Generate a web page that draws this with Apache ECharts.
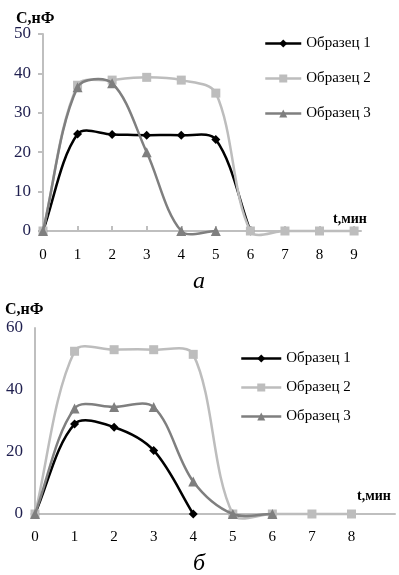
<!DOCTYPE html>
<html>
<head>
<meta charset="utf-8">
<script src="https://cdn.jsdelivr.net/npm/echarts@6/dist/echarts.min.js"></script>
<style>
  html, body { margin: 0; padding: 0; background: #fff; }
  #main { width: 399px; height: 575px; }
</style>
</head>
<body>
<div id="main"></div>
<script>
// chart (a)
var timeA = [0, 1, 2, 3, 4, 5, 6, 7, 8, 9];
var sample1A = [0, 24.6, 24.5, 24.3, 24.3, 23.2, 0, null, null, null];
var sample2A = [0, 37, 38.3, 39, 38.3, 35, 0, 0, 0, 0];
var sample3A = [0, 36.5, 37.5, 20, 0, 0, null, null, null, null];

// chart (b)
var timeB = [0, 1, 2, 3, 4, 5, 6, 7, 8];
var sample1B = [0, 29, 28, 20.5, 0, null, null, null, null];
var sample2B = [0, 52.5, 53, 53, 51.5, 0, 0, 0, 0];
var sample3B = [0, 34, 34.5, 34.5, 10.5, 0, 0, null, null];

var names = ['Образец 1', 'Образец 2', 'Образец 3'];
var colors = ['#000000', '#BDBDBD', '#7F7F7F'];
var symbols = ['diamond', 'rect', 'triangle'];
var serif = '"Liberation Serif", "DejaVu Serif", serif';

function pairs(xs, ys) {
    var d = [];
    for (var i = 0; i < xs.length; i++) {
        d.push([xs[i], ys[i]]);
    }
    return d;
}

function dist(a, b) {
    return Math.sqrt((a[0] - b[0]) * (a[0] - b[0]) + (a[1] - b[1]) * (a[1] - b[1]));
}

// Excel-like smoothed line: tangents weighted by segment length (in pixels)
function curvePath(pts) {
    var segs = [], cur = [];
    pts.forEach(function(p) {
        if (p) { cur.push(p); } else { if (cur.length) segs.push(cur); cur = []; }
    });
    if (cur.length) segs.push(cur);
    var d = '';
    segs.forEach(function(s) {
        d += 'M' + s[0][0] + ' ' + s[0][1];
        for (var i = 0; i < s.length - 1; i++) {
            var p0 = s[Math.max(i - 1, 0)], p1 = s[i], p2 = s[i + 1], p3 = s[Math.min(i + 2, s.length - 1)];
            var d01 = dist(p0, p1), d12 = dist(p1, p2), d23 = dist(p2, p3);
            var f1 = d12 / (d01 + d12) / 3, f2 = d12 / (d12 + d23) / 3;
            var c1x = p1[0] + (p2[0] - p0[0]) * f1, c1y = p1[1] + (p2[1] - p0[1]) * f1;
            var c2x = p2[0] - (p3[0] - p1[0]) * f2, c2y = p2[1] - (p3[1] - p1[1]) * f2;
            d += 'C' + c1x + ' ' + c1y + ' ' + c2x + ' ' + c2y + ' ' + p2[0] + ' ' + p2[1];
        }
    });
    return d;
}

function curveSeries(idx, xs, ys, k) {
    return {
        type: 'custom',
        xAxisIndex: k,
        yAxisIndex: k,
        z: 2 + 2 * idx,
        silent: true,
        data: pairs(xs, ys),
        renderItem: function(params, api) {
            if (params.dataIndex !== 0) return null;
            var pts = [];
            for (var i = 0; i < xs.length; i++) {
                pts.push(ys[i] == null ? null : api.coord([xs[i], ys[i]]));
            }
            return {
                type: 'path',
                shape: { pathData: curvePath(pts) },
                style: { fill: null, stroke: colors[idx], lineWidth: 2.5 }
            };
        }
    };
}

function markerSeries(idx, xs, ys, k) {
    return {
        name: names[idx],
        type: 'line',
        xAxisIndex: k,
        yAxisIndex: k,
        symbol: symbols[idx],
        symbolSize: idx === 2 ? 10 : 9,
        showAllSymbol: true,
        lineStyle: { opacity: 0 },
        itemStyle: { color: colors[idx] },
        data: pairs(xs, ys),
        z: 3 + 2 * idx
    };
}

function legendData() {
    return names.map(function(n, i) {
        return { name: n, lineStyle: { opacity: 1, width: 2.5, color: colors[i] } };
    });
}

var axisLineStyle = { color: '#BFBFBF', width: 2 };

var myChart = echarts.init(document.getElementById('main'));

var series = [];
[[timeA, [sample1A, sample2A, sample3A], 0], [timeB, [sample1B, sample2B, sample3B], 1]].forEach(function(c) {
    c[1].forEach(function(ys, i) {
        series.push(curveSeries(i, c[0], ys, c[2]));
        series.push(markerSeries(i, c[0], ys, c[2]));
    });
});

var option = {
    animation: false,
    grid: [
        { left: 43, top: 34, width: 318, height: 197 },
        { left: 35, top: 328, width: 360, height: 186 }
    ],
    xAxis: [{
        gridIndex: 0,
        type: 'value',
        min: 0,
        max: 9.2,
        interval: 1,
        splitLine: { show: false },
        axisLine: { lineStyle: axisLineStyle },
        axisTick: { show: true, inside: true, length: 5, lineStyle: axisLineStyle },
        axisLabel: {
            color: '#000', fontFamily: serif, fontSize: 15, margin: 17,
            showMaxLabel: false,
            formatter: function(v) { return v % 1 === 0 ? v : ''; }
        }
    }, {
        gridIndex: 1,
        type: 'value',
        min: 0,
        max: 9.1,
        interval: 1,
        splitLine: { show: false },
        axisLine: { lineStyle: axisLineStyle },
        axisTick: { show: false },
        axisLabel: {
            color: '#000', fontFamily: serif, fontSize: 15, margin: 16,
            showMaxLabel: false,
            formatter: function(v) { return v % 1 === 0 && v <= 8 ? v : ''; }
        }
    }],
    yAxis: [{
        gridIndex: 0,
        type: 'value',
        min: 0,
        max: 50,
        interval: 10,
        splitLine: { show: false },
        axisLine: { show: true, lineStyle: axisLineStyle },
        axisTick: { show: true, length: 5, lineStyle: axisLineStyle },
        axisLabel: { color: '#1F1F4F', fontFamily: serif, fontSize: 17, margin: 12 }
    }, {
        gridIndex: 1,
        type: 'value',
        min: 0,
        max: 60,
        interval: 20,
        splitLine: { show: false },
        axisLine: { show: true, lineStyle: axisLineStyle },
        axisTick: { show: false },
        axisLabel: { color: '#1F1F4F', fontFamily: serif, fontSize: 17, margin: 12 }
    }],
    legend: [{
        orient: 'vertical',
        left: 259,
        top: 31,
        itemWidth: 36,
        itemHeight: 10,
        itemGap: 20,
        data: legendData(),
        textStyle: { color: '#000', fontFamily: serif, fontSize: 15 }
    }, {
        orient: 'vertical',
        left: 235,
        top: 346,
        itemWidth: 40,
        itemHeight: 10,
        itemGap: 14,
        data: legendData(),
        textStyle: { color: '#000', fontFamily: serif, fontSize: 15 }
    }],
    graphic: [
        { type: 'text', left: 16, top: 11, style: { text: 'С,нФ', font: 'bold 16px ' + serif, fill: '#000' } },
        { type: 'text', left: 333, top: 212, style: { text: 't,мин', font: 'bold 14px ' + serif, fill: '#000' } },
        { type: 'text', left: 193, top: 270, style: { text: 'а', font: 'italic 24px ' + serif, fill: '#000' } },
        { type: 'text', left: 5, top: 302, style: { text: 'С,нФ', font: 'bold 16px ' + serif, fill: '#000' } },
        { type: 'text', left: 357, top: 489, style: { text: 't,мин', font: 'bold 14px ' + serif, fill: '#000' } },
        { type: 'text', left: 193, top: 552, style: { text: 'б', font: 'italic 24px ' + serif, fill: '#000' } }
    ],
    series: series
};

myChart.setOption(option);
</script>
</body>
</html>
